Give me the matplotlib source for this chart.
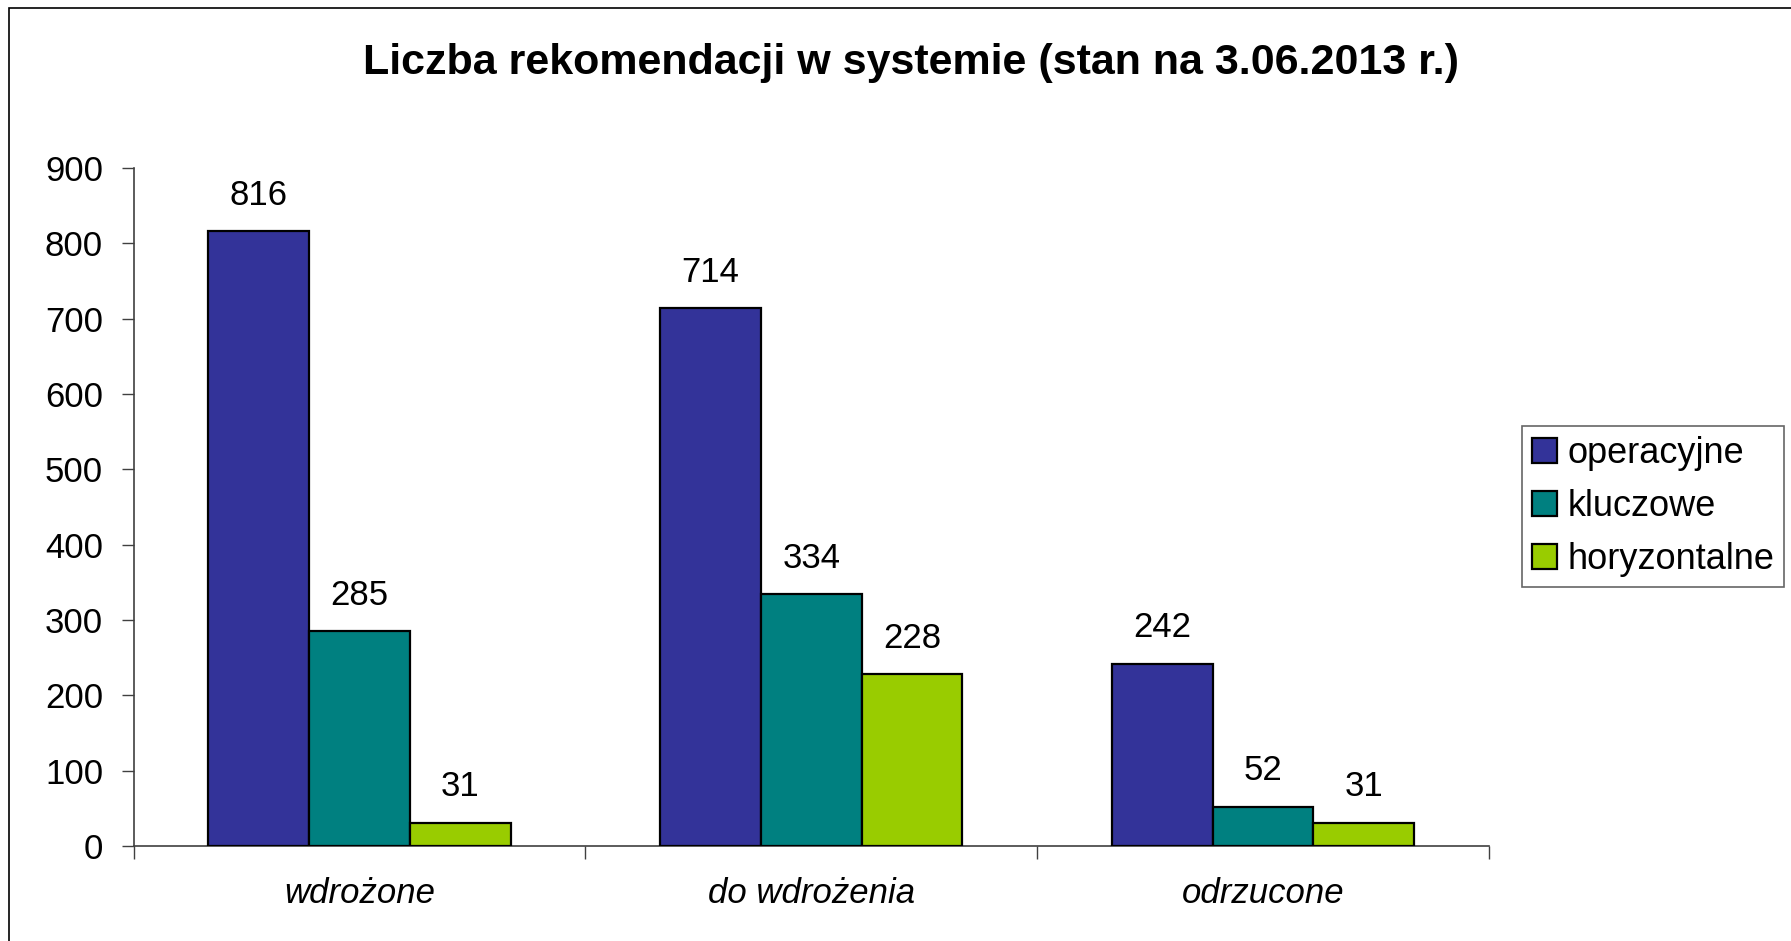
import matplotlib
matplotlib.use("Agg")
import matplotlib.pyplot as plt
import numpy as np
from matplotlib.patches import Rectangle

categories = ["wdrożone", "do wdrożenia", "odrzucone"]
series_names = ["operacyjne", "kluczowe", "horyzontalne"]
operacyjne = [816, 714, 242]
kluczowe = [285, 334, 52]
horyzontalne = [31, 228, 31]
colors = ["#333399", "#008080", "#99CC00"]
yticks = [0, 100, 200, 300, 400, 500, 600, 700, 800, 900]

plt.rcParams['font.family'] = ['Liberation Sans', 'DejaVu Sans']

W, H = 1791, 941
fig = plt.figure(figsize=(W / 100, H / 100), dpi=100)
ax = fig.add_axes([133.6 / W, 1 - 846 / H, (1489 - 133.6) / W, (846 - 168) / H])

x = np.arange(len(categories))
bw = 0.223
series = [operacyjne, kluczowe, horyzontalne]
for i, (vals, name, c) in enumerate(zip(series, series_names, colors)):
    bars = ax.bar(x + (i - 1) * bw, vals, width=bw, color=c, edgecolor="black",
                  linewidth=1.6, label=name, zorder=3)
    for b, v in zip(bars, vals):
        ax.annotate(str(v), (b.get_x() + b.get_width() / 2, v), xytext=(0, 26),
                    textcoords="offset points", ha="center", va="center", fontsize=25)

ax.set_xlim(-0.5, 2.5)
ax.set_ylim(0, 900)
ax.set_yticks(yticks)
ax.tick_params(axis='y', labelsize=25, length=9, width=1, color="#404040", pad=13)
ax.set_xticks(x)
ax.set_xticklabels(categories, fontsize=25, style='italic')
ax.tick_params(axis='x', length=0, pad=22)
ax.set_xticks([-0.5, 0.5, 1.5, 2.5], minor=True)
ax.tick_params(axis='x', which='minor', length=9, width=1, color="#404040")
for s in ["top", "right"]:
    ax.spines[s].set_visible(False)
for s in ["left", "bottom"]:
    ax.spines[s].set_color("#404040")
    ax.spines[s].set_linewidth(1.2)

fig.text(911 / W, 1 - 63 / H, "Liczba rekomendacji w systemie (stan na 3.06.2013 r.)",
         ha="center", va="center", fontsize=31, fontweight="bold")

leg = fig.legend(loc="upper left", bbox_to_anchor=(1522 / W, 1 - 426 / H),
                 fontsize=26, frameon=True, fancybox=False, borderaxespad=0,
                 handlelength=0.68, handleheight=0.68, handletextpad=0.3,
                 labelspacing=0.5, borderpad=0.28)
leg.get_frame().set_edgecolor("#404040")
leg.get_frame().set_linewidth(1.2)
for h in leg.legend_handles:
    h.set_linewidth(1.6)

fig.patches.append(Rectangle((9 / W, -0.1), 1.2, 1 - 8 / H + 0.1, transform=fig.transFigure,
                             fill=False, edgecolor="black", linewidth=1.2))

fig.savefig("out.png", dpi=100)
